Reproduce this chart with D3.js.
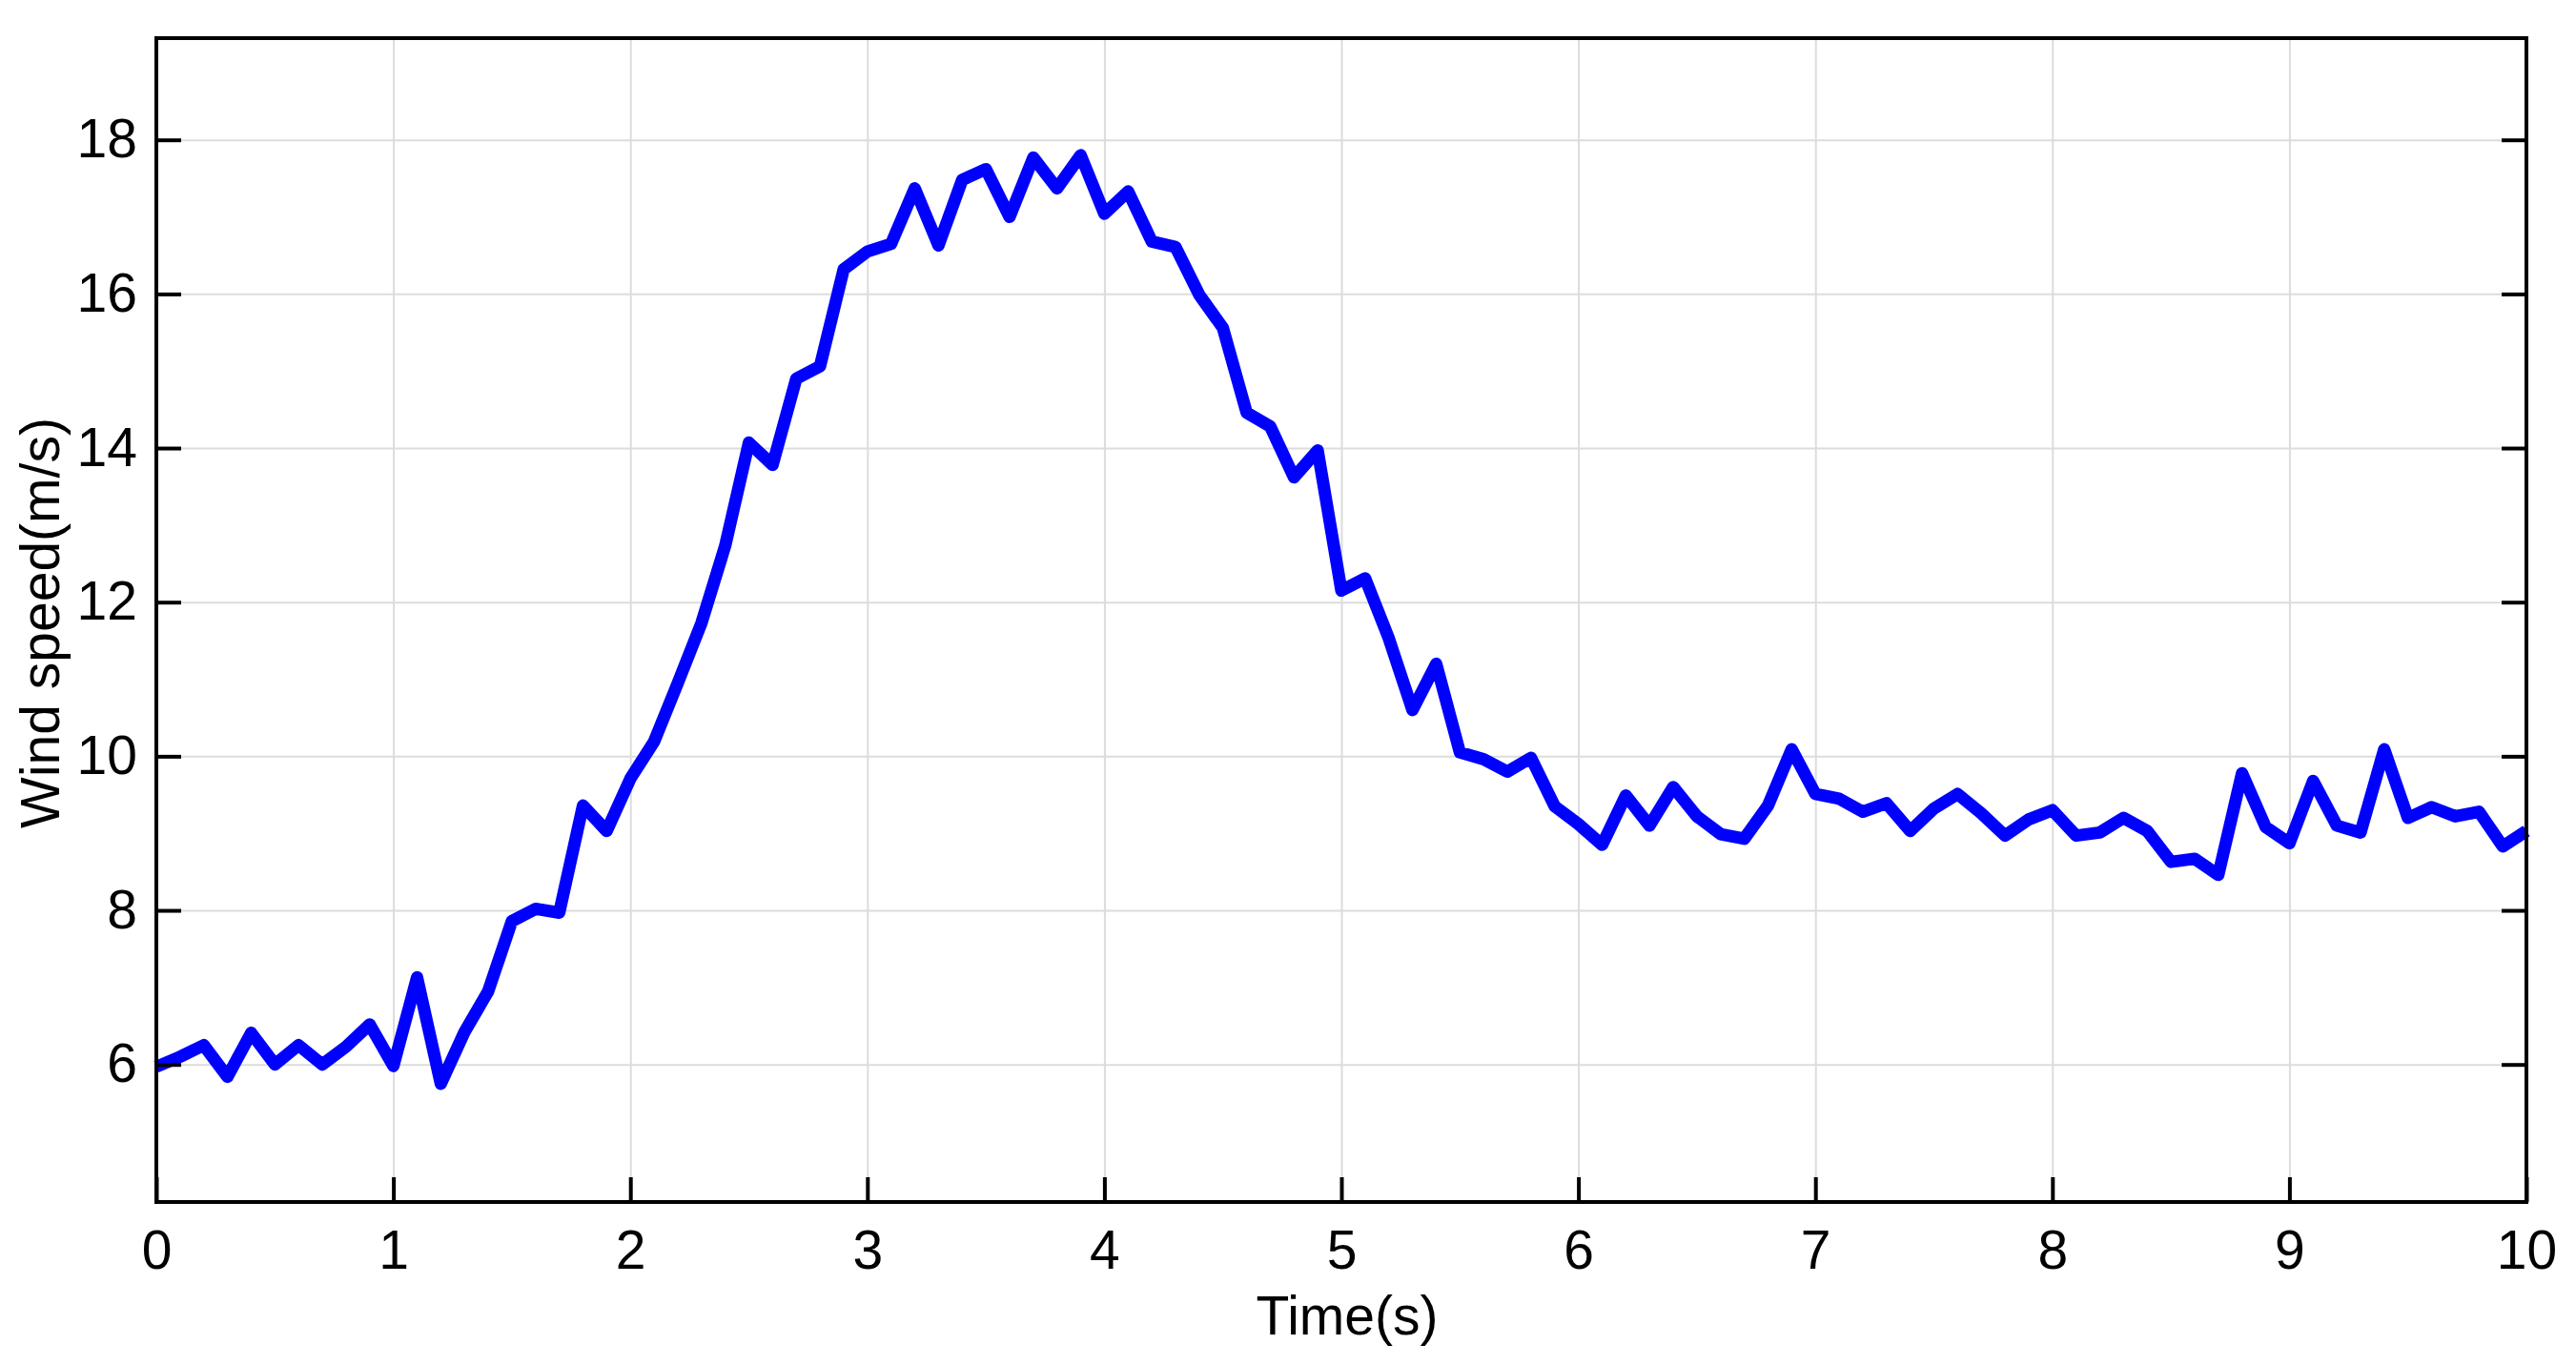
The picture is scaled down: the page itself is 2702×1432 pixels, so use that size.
<!DOCTYPE html>
<html>
<head>
<meta charset="utf-8">
<script src="https://cdn.jsdelivr.net/npm/d3@7"></script>
<style>
  html, body { margin: 0; padding: 0; background: #fff; }
  svg { display: block; }
  text { font-family: Arial, "Liberation Sans", sans-serif; fill: #000; }
</style>
</head>
<body>
<svg id="chart" width="2702" height="1432"></svg>
<script>
// ---- Data ----
const time = d3.range(0, 101).map(i => +(i * 0.1).toFixed(1));
const windSpeed = [
  5.97, 6.10, 6.25, 5.84, 6.41, 6.00, 6.25, 6.00, 6.23, 6.52,
  5.98, 7.13, 5.75, 6.42, 6.95, 7.86, 8.02, 7.97, 9.36, 9.03,
  9.71, 10.19, 10.95, 11.73, 12.73, 14.07, 13.78, 14.90, 15.06, 16.32,
  16.55, 16.65, 17.37, 16.63, 17.48, 17.62, 17.00, 17.77, 17.37, 17.80,
  17.04, 17.33, 16.68, 16.61, 15.99, 15.56, 14.46, 14.28, 13.62, 13.97,
  12.15, 12.31, 11.53, 10.60, 11.20, 10.05, 9.96, 9.80, 9.98, 9.35,
  9.12, 8.85, 9.49, 9.10, 9.60, 9.22, 8.99, 8.93, 9.36, 10.09,
  9.51, 9.45, 9.28, 9.39, 9.03, 9.32, 9.51, 9.26, 8.97, 9.18,
  9.30, 8.97, 9.01, 9.20, 9.03, 8.63, 8.67, 8.46, 9.78, 9.08,
  8.87, 9.68, 9.10, 9.01, 10.09, 9.20, 9.34, 9.22, 9.28, 8.83,
  9.03
];
const xTicks = [0, 1, 2, 3, 4, 5, 6, 7, 8, 9, 10];
const yTicks = [6, 8, 10, 12, 14, 16, 18];
const xDomain = [0, 10];
const yDomain = [4.215, 19.32];
const xLabel = "Time(s)";
const yLabel = "Wind speed(m/s)";

// ---- Layout ----
const W = 2702, H = 1432;
const margin = { left: 164, top: 40, right: 52, bottom: 171 };
const iw = W - margin.left - margin.right;
const ih = H - margin.top - margin.bottom;

const svg = d3.select("#chart");
const g = svg.append("g").attr("transform", `translate(${margin.left},${margin.top})`);

const x = d3.scaleLinear().domain(xDomain).range([0, iw]);
const y = d3.scaleLinear().domain(yDomain).range([ih, 0]);

const tickLen = 26;
const fontSize = 57;

// Grid
g.append("g").attr("class", "xgrid")
  .attr("transform", `translate(0,${ih})`)
  .call(d3.axisBottom(x).tickValues(xTicks).tickSize(-ih).tickFormat(""))
  .call(s => s.select(".domain").remove())
  .call(s => s.selectAll("line").attr("stroke", "#dcdcdc").attr("stroke-width", 2));
g.append("g").attr("class", "ygrid")
  .call(d3.axisLeft(y).tickValues(yTicks).tickSize(-iw).tickFormat(""))
  .call(s => s.select(".domain").remove())
  .call(s => s.selectAll("line").attr("stroke", "#dcdcdc").attr("stroke-width", 2));

// Data line
const line = d3.line().x((d, i) => x(time[i])).y(d => y(d));
g.append("path")
  .datum(windSpeed)
  .attr("fill", "none")
  .attr("stroke", "#0000ff")
  .attr("stroke-width", 13)
  .attr("stroke-linejoin", "round")
  .attr("stroke-linecap", "butt")
  .attr("d", line);

// Axes with inward ticks
function styleAxis(s) {
  s.select(".domain").remove();
  s.selectAll(".tick line").attr("stroke", "#000").attr("stroke-width", 4);
  s.selectAll(".tick text").style("font-size", fontSize + "px").attr("fill", "#000");
}
g.append("g").attr("transform", `translate(0,${ih})`)
  .call(d3.axisBottom(x).tickValues(xTicks).tickSizeInner(-tickLen).tickSizeOuter(0).tickPadding(30).tickFormat(d3.format("d")))
  .call(styleAxis);
g.append("g")
  .call(d3.axisLeft(y).tickValues(yTicks).tickSizeInner(-tickLen).tickSizeOuter(0).tickPadding(20).tickFormat(d3.format("d")))
  .call(styleAxis);
g.append("g").attr("transform", `translate(${iw},0)`)
  .call(d3.axisRight(y).tickValues(yTicks).tickSizeInner(-tickLen).tickSizeOuter(0).tickFormat(""))
  .call(styleAxis);

// Box
g.append("rect")
  .attr("x", 0).attr("y", 0).attr("width", iw).attr("height", ih)
  .attr("fill", "none").attr("stroke", "#000").attr("stroke-width", 4);

// Labels
svg.append("text")
  .attr("x", margin.left + iw / 2 + 6)
  .attr("y", 1400)
  .attr("text-anchor", "middle")
  .style("font-size", fontSize + "px")
  .text(xLabel);
svg.append("text")
  .attr("transform", `translate(62,${margin.top + ih / 2 + 3}) rotate(-90)`)
  .attr("text-anchor", "middle")
  .style("font-size", fontSize + "px")
  .text(yLabel);
</script>
</body>
</html>
